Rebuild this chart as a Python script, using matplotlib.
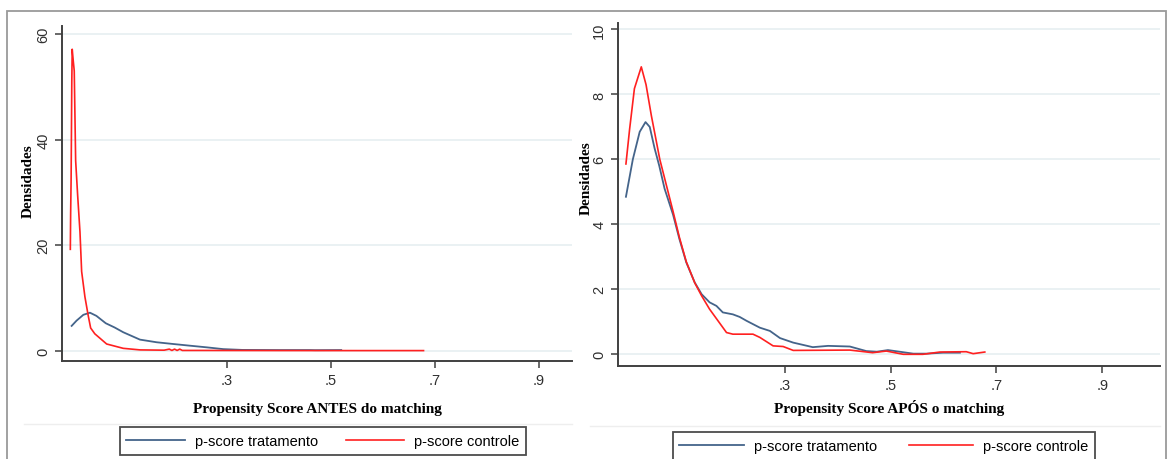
import matplotlib
matplotlib.use("Agg")
import matplotlib.pyplot as plt
from matplotlib.patches import Rectangle
from matplotlib.lines import Line2D

# densidades do p-score ANTES do matching
antes_trat_x = [0.0025, 0.012, 0.025, 0.0376, 0.05, 0.068, 0.085, 0.1015, 0.1336, 0.1656,
                0.1975, 0.2296, 0.2616, 0.2935, 0.33, 0.40, 0.46, 0.47, 0.52]
antes_trat_y = [4.7, 5.7, 6.8, 7.2, 6.6, 5.2, 4.4, 3.5, 2.1, 1.6,
                1.27, 0.95, 0.64, 0.3, 0.15, 0.12, 0.12, 0.1, 0.12]
antes_ctrl_x = [0.0, 0.0006, 0.0015, 0.0028, 0.0036, 0.0055, 0.0075, 0.0102, 0.014, 0.0185,
                0.0217, 0.028, 0.0344, 0.039, 0.047, 0.0697, 0.1015, 0.134, 0.18, 0.19,
                0.195, 0.20, 0.205, 0.21, 0.215, 0.25, 0.40, 0.55, 0.678]
antes_ctrl_y = [19.2, 26, 32.5, 51, 57.1, 55, 53, 36, 29.5, 22.5,
                15.0, 10.2, 6.6, 4.3, 3.2, 1.27, 0.45, 0.15, 0.1, 0.3,
                0.05, 0.3, 0.05, 0.3, 0.05, 0.05, 0.03, 0.02, 0.02]

# densidades do p-score APOS o matching
apos_trat_x = [0.0, 0.013, 0.026, 0.037, 0.045, 0.054, 0.063, 0.073, 0.089, 0.101,
               0.114, 0.13, 0.143, 0.158, 0.171, 0.183, 0.202, 0.215, 0.228, 0.253,
               0.272, 0.291, 0.316, 0.353, 0.382, 0.423, 0.454, 0.474, 0.495, 0.517,
               0.543, 0.568, 0.599, 0.631]
apos_trat_y = [4.85, 6.0, 6.85, 7.15, 7.0, 6.35, 5.8, 5.1, 4.3, 3.55,
               2.83, 2.21, 1.85, 1.6, 1.49, 1.29, 1.23, 1.15, 1.03, 0.82,
               0.72, 0.5, 0.36, 0.22, 0.26, 0.24, 0.1, 0.08, 0.13, 0.08,
               0.02, 0.02, 0.05, 0.05]
apos_ctrl_x = [0.0, 0.007, 0.016, 0.029, 0.038, 0.048, 0.064, 0.079, 0.089, 0.101,
               0.114, 0.13, 0.143, 0.158, 0.174, 0.19, 0.202, 0.24, 0.253, 0.278,
               0.297, 0.316, 0.423, 0.466, 0.492, 0.524, 0.561, 0.593, 0.643, 0.656,
               0.678]
apos_ctrl_y = [5.86, 6.94, 8.18, 8.85, 8.3, 7.35, 6.0, 5.04, 4.4, 3.6,
               2.85, 2.2, 1.8, 1.39, 1.03, 0.67, 0.62, 0.62, 0.52, 0.26,
               0.24, 0.12, 0.13, 0.05, 0.1, 0.0, 0.0, 0.07, 0.08, 0.02,
               0.07]

xticks = [0.3, 0.5, 0.7, 0.9]
xticklabels = ['.3', '.5', '.7', '.9']
yticks_antes = [0, 20, 40, 60]
yticks_apos = [0, 2, 4, 6, 8, 10]
labels = ['p-score tratamento', 'p-score controle']

W, H = 1169, 460
azul = '#44648A'
vermelho = '#FF2020'
grade = '#E8F0F2'
eixo = '#404040'

plt.rcParams['font.family'] = ['Liberation Sans', 'DejaVu Sans']
fig = plt.figure(figsize=(W / 100, H / 100), dpi=100)

def px_axes(left, right, top, bottom):
    return fig.add_axes([left / W, (H - bottom) / H, (right - left) / W, (bottom - top) / H])

def estilo(ax, yticks, xlabel, pad):
    for s in ['top', 'right']:
        ax.spines[s].set_visible(False)
    for s in ['left', 'bottom']:
        ax.spines[s].set_color(eixo)
        ax.spines[s].set_linewidth(1.4)
    ax.set_xticks(xticks)
    ax.set_xticklabels(xticklabels)
    ax.set_yticks(yticks)
    ax.tick_params(length=5, width=1.1, color=eixo, labelsize=10.5, labelcolor='#303030')
    for lab in ax.get_yticklabels():
        lab.set_rotation(90)
        lab.set_va('center')
    for t in yticks:
        ax.axhline(t, color=grade, lw=1.3, zorder=0)
    ax.set_ylabel('Densidades', family='Liberation Serif', fontweight='bold', fontsize=11)
    ax.set_xlabel(xlabel, family='Liberation Serif', fontweight='bold', fontsize=11, labelpad=pad)

# painel esquerdo
ax1 = px_axes(62, 572, 27, 362)
ax1.plot(antes_trat_x, antes_trat_y, color=azul, lw=1.3, label=labels[0])
ax1.plot(antes_ctrl_x, antes_ctrl_y, color=vermelho, lw=1.2, label=labels[1])
ax1.set_xlim(-0.016, 0.963)
ax1.set_ylim(-1.95, 61.5)
estilo(ax1, yticks_antes, 'Propensity Score ANTES do matching', 11)
ax1.yaxis.set_label_coords(-0.054, 0.54)

# painel direito
ax2 = px_axes(618, 1160, 24, 367)
ax2.plot(apos_trat_x, apos_trat_y, color=azul, lw=1.3, label=labels[0])
ax2.plot(apos_ctrl_x, apos_ctrl_y, color=vermelho, lw=1.2, label=labels[1])
ax2.set_xlim(-0.015, 1.009)
ax2.set_ylim(-0.36, 10.2)
estilo(ax2, yticks_apos, 'Propensity Score APÓS o matching', 5)
ax2.yaxis.set_label_coords(-0.046, 0.55)

# legendas
for ax, cx, cy, hl, cs in [(ax1, 323 / W, 1 - 442 / H, 4.0, 1.9),
                           (ax2, 884 / W, 1 - 447 / H, 4.4, 2.2)]:
    leg = fig.legend(*ax.get_legend_handles_labels(), loc='center', bbox_to_anchor=(cx, cy),
                     ncol=2, fontsize=10.5, frameon=True, fancybox=False,
                     edgecolor='#202020', handlelength=hl, handletextpad=0.7,
                     columnspacing=cs, borderpad=0.45, borderaxespad=0)
    leg.get_frame().set_linewidth(1.3)

# moldura externa e linhas de fundo
fig.patches.append(Rectangle((7 / W, -0.02), (1166 - 7) / W, (H - 12) / H + 0.02,
                             transform=fig.transFigure, fill=False,
                             edgecolor='#9A9A9A', lw=1.3))
fig.lines.append(Line2D([24 / W, 572 / W], [1 - 425 / H, 1 - 425 / H],
                        transform=fig.transFigure, color='#EEEEEE', lw=1))
fig.lines.append(Line2D([590 / W, 1160 / W], [1 - 427 / H, 1 - 427 / H],
                        transform=fig.transFigure, color='#EEEEEE', lw=1))

fig.savefig('out.png', dpi=100)
